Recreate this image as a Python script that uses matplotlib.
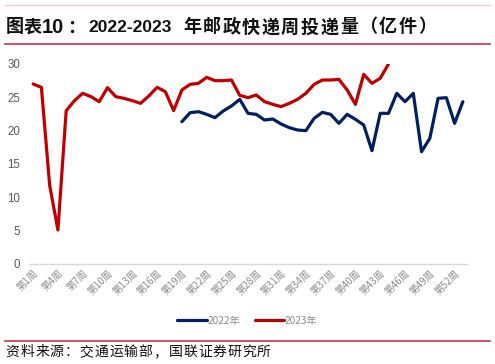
import matplotlib
matplotlib.use("Agg")
import matplotlib.pyplot as plt
import numpy as np

plt.rcParams['font.family'] = ['Noto Sans CJK SC', 'DejaVu Sans']

weeks = [f"第{i}周" for i in range(1, 54)]
# 2022: weeks 19..53
y2022_start = 19
y2022 = [21.35, 22.7, 22.85, 22.45, 21.95, 22.95, 23.7, 24.7, 22.6, 22.45,
         21.6, 21.75, 21.0, 20.45, 20.1, 20.0, 21.85, 22.75, 22.45, 21.1,
         22.45, 21.7, 20.85, 17.0, 22.6, 22.6, 25.6, 24.35, 25.6, 16.85,
         18.85, 24.85, 24.95, 21.1, 24.35]
# 2023: weeks 1..44
y2023 = [27.0, 26.5, 11.8, 5.1, 23.0, 24.5, 25.6, 25.1, 24.35, 26.45,
         25.1, 24.85, 24.5, 24.1, 25.2, 26.5, 25.85, 23.0, 26.1, 26.95,
         27.1, 28.0, 27.5, 27.5, 27.6, 25.3, 24.95, 25.35, 24.35, 23.95,
         23.6, 24.1, 24.7, 25.6, 26.95, 27.6, 27.6, 27.7, 26.1, 23.95,
         28.45, 27.1, 27.85, 30.0]
yticks = [0, 5, 10, 15, 20, 25, 30]

W, H = 495, 364
fig = plt.figure(figsize=(W / 100, H / 100), dpi=100)
ax = fig.add_axes([29/W, 1-264/H, 438/W, 200/H])

x = np.arange(len(weeks))
x22 = np.arange(y2022_start - 1, y2022_start - 1 + len(y2022))
x23 = np.arange(len(y2023))
l1, = ax.plot(x22, y2022, color='#002060', lw=2.3, label='2022年', solid_capstyle='round')
l2, = ax.plot(x23, y2023, color='#C00000', lw=2.3, label='2023年', solid_capstyle='round')

ax.set_xlim(-0.5, len(weeks) - 0.5)
ax.set_ylim(0, 30)
ax.set_yticks(yticks)
ax.set_yticklabels([str(v) for v in yticks], fontsize=8.3, color='#595959', family='Liberation Sans')
ax.tick_params(axis='y', length=0, pad=6.5)
ax.set_xticks(x[::3])
ax.set_xticklabels(weeks[::3], rotation=45, ha='right', va='top', fontsize=7,
                   color='#8c8c8c', rotation_mode='anchor')
ax.tick_params(axis='x', length=0, pad=3)
for s in ['top', 'right', 'left']:
    ax.spines[s].set_visible(False)
ax.spines['bottom'].set_color('#d9d9d9')
ax.spines['bottom'].set_linewidth(1)

fig.legend(handles=[l1, l2], loc='center', bbox_to_anchor=(0.5, 1-321/H), ncol=2,
           frameon=False, fontsize=7.3, handlelength=2.9, columnspacing=1.4,
           handletextpad=0.1, labelcolor='#8c8c8c')


def spaced(text, x0, y, pitch, **kw):
    for i, ch in enumerate(text):
        fig.text((x0 + i * pitch) / W, 1 - y / H, ch, va='center', ha='left', **kw)


# title
tkw = dict(fontsize=13, fontweight='bold', color='#111111')
spaced("图表", 5.5, 27, 18.5, **tkw)
fig.text(42 / W, 1 - 27.5 / H, "10", va='center', ha='left', fontsize=14.5,
         fontweight='bold', color='#111111', family='Liberation Sans')
fig.text(67 / W, 1 - 27 / H, "：", va='center', ha='left', **tkw)
fig.text(88 / W, 1 - 27.5 / H, "2022-2023", va='center', ha='left', fontsize=12.5,
         fontweight='bold', color='#111111', family='Liberation Sans')
spaced("年邮政快递周投递量（亿件）", 183, 27, 19.6, **tkw)

fig.add_artist(plt.Line2D([5/W, 490/W], [1-5/H, 1-5/H], color='#f0c8d2', lw=1))
fig.add_artist(plt.Line2D([5/W, 490/W], [1-44/H, 1-44/H], color='#c8324e', lw=1.2))
fig.add_artist(plt.Line2D([5/W, 490/W], [1-341/H, 1-341/H], color='#c8324e', lw=1.2))

spaced("资料来源：交通运输部，国联证券研究所", 5.5, 352, 14.8, fontsize=10, color='#111111')

fig.savefig('out.png', dpi=100)
